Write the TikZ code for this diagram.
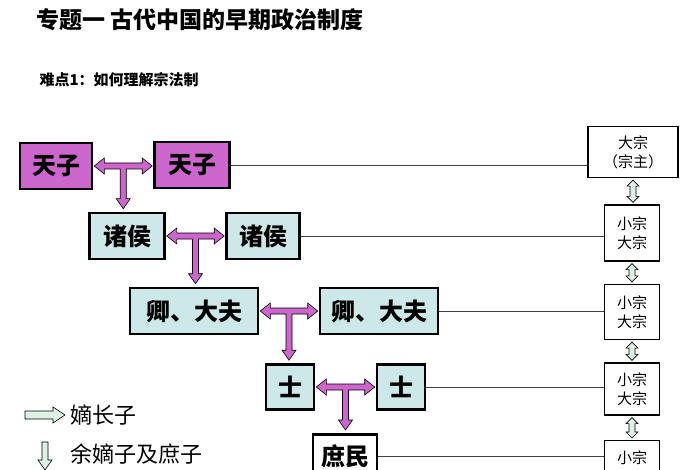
\documentclass[tikz,border=0pt]{standalone}
\usepackage{fontspec}
\setmainfont{Noto Sans CJK SC}
\usetikzlibrary{calc}
\definecolor{mag}{HTML}{CC66CC}
\definecolor{cy}{HTML}{CCE8E8}
\definecolor{gr}{HTML}{DDF2E6}
\tikzset{
 bx/.style={draw=black,line width=2.6pt,inner sep=0pt,font=\fontsize{24}{24}\selectfont\bfseries},
 pb/.style={bx,fill=mag},
 cb/.style={bx,fill=cy},
 rb/.style={draw=black,line width=1.2pt,fill=white,inner sep=0pt,align=center,font=\fontsize{15}{19}\selectfont},
 ln/.style={draw=black!75,line width=0.9pt},
 ta/.style={draw=black,fill=mag,line width=0.6pt},
 va/.style={draw=black,fill=gr,line width=0.6pt},
}
\newcommand\tarrow[3]{%
 \path[ta] let \p1=(#1.east),\p2=(#2.west),\p3=(#3.north),\n1={(\x1+\x2)/2} in
 (\x1+1pt,\y1) -- (\x1+11pt,\y1+8pt) -- (\x1+11pt,\y1+3pt) -- (\x2-11pt,\y1+3pt) -- (\x2-11pt,\y1+8pt)
 -- (\x2-1pt,\y1) -- (\x2-11pt,\y1-8pt) -- (\x2-11pt,\y1-3pt) -- (\n1+3pt,\y1-3pt)
 -- (\n1+3pt,\y3+13pt) -- (\n1+7pt,\y3+13pt) -- (\n1,\y3+3pt) -- (\n1-7pt,\y3+13pt) -- (\n1-3pt,\y3+13pt)
 -- (\n1-3pt,\y1-3pt) -- (\x1+11pt,\y1-3pt) -- (\x1+11pt,\y1-8pt) -- cycle;}
\newcommand\varrow[2]{%
 \path[va] let \p1=(#1.south),\p2=(#2.north) in
 (\x1,\y1-2pt) -- (\x1+6pt,\y1-8pt) -- (\x1+3pt,\y1-8pt) -- (\x1+3pt,\y2+8pt) -- (\x1+6pt,\y2+8pt)
 -- (\x1,\y2+2pt) -- (\x1-6pt,\y2+8pt) -- (\x1-3pt,\y2+8pt) -- (\x1-3pt,\y1-8pt) -- (\x1-6pt,\y1-8pt) -- cycle;}
\begin{document}
\begin{tikzpicture}[x=1pt,y=-1pt]
\useasboundingbox[fill=white] (0,0) rectangle (700,470);
\node[anchor=west,font=\fontsize{23}{23}\selectfont\bfseries] (title) at (33,20) {专题一 古代中国的早期政治制度};
\node[anchor=west,font=\fontsize{15}{15}\selectfont\bfseries] (sub) at (36,80) {难点1：如何理解宗法制};
% left boxes
\node[pb,minimum width=72pt,minimum height=46pt] (t1) at (56,166) {天子};
\node[pb,minimum width=75pt,minimum height=46pt] (t2) at (192,165) {天子};
\node[cb,minimum width=75pt,minimum height=46pt] (z1) at (127,236) {诸侯};
\node[cb,minimum width=73pt,minimum height=46pt] (z2) at (263,236) {诸侯};
\node[cb,minimum width=128pt,minimum height=46pt] (q1) at (194,311) {卿、大夫};
\node[cb,minimum width=118pt,minimum height=46pt] (q2) at (379,311) {卿、大夫};
\node[cb,minimum width=48pt,minimum height=45pt] (s1) at (290,387) {士};
\node[cb,minimum width=48pt,minimum height=45pt] (s2) at (401,387) {士};
\node[bx,fill=white,minimum width=64pt,minimum height=44pt,anchor=north] (sm) at (345,433) {庶民};
% right boxes
\node[rb,minimum width=90pt,minimum height=51pt] (r1) at (633,152) {大宗\\（宗主）};
\node[rb,minimum width=55pt,minimum height=56pt] (r2) at (632,233) {小宗\\大宗};
\node[rb,minimum width=55pt,minimum height=55pt] (r3) at (632,312) {小宗\\大宗};
\node[rb,minimum width=55pt,minimum height=52pt] (r4) at (632,389) {小宗\\大宗};
\node[rb,minimum width=55pt,minimum height=52pt,anchor=north] (r5) at (632,440) {小宗\\ };
% lines
\draw[ln] (t2.east) -- (t2.east -| r1.west);
\draw[ln] (z2.east) -- (z2.east -| r2.west);
\draw[ln] (q2.east) -- (q2.east -| r3.west);
\draw[ln] (s2.east) -- (s2.east -| r4.west);
\draw[ln] (sm.east) -- (sm.east -| r5.west);
% T arrows
\tarrow{t1}{t2}{z1}
\tarrow{z1}{z2}{q1}
\tarrow{q1}{q2}{s1}
\tarrow{s1}{s2}{sm}
% vertical arrows
\varrow{r1}{r2}
\varrow{r2}{r3}
\varrow{r3}{r4}
\varrow{r4}{r5}
% legend
\coordinate (la) at (25,415);
\path[va] (la) ++(0,-4) -- ++(28,0) -- ++(0,-4) -- ++(12,8) -- ++(-12,8) -- ++(0,-4) -- ++(-28,0) -- cycle;
\node[anchor=west,font=\fontsize{22}{22}\selectfont] (l1) at (67,415) {嫡长子};
\coordinate (lb) at (45,442);
\path[va] (lb) ++(-3,0) -- ++(6,0) -- ++(0,18) -- ++(4,0) -- ++(-7,10) -- ++(-7,-10) -- ++(4,0) -- cycle;
\node[anchor=west,font=\fontsize{22}{22}\selectfont] (l2) at (67,454) {余嫡子及庶子};
\end{tikzpicture}
\end{document}
